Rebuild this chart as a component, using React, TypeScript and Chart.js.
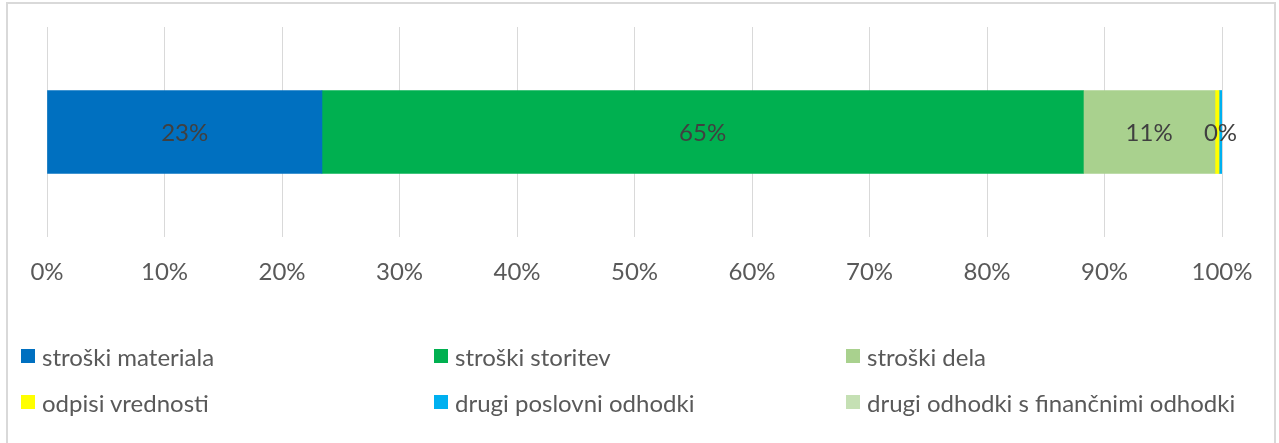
import React, { useEffect, useRef } from "react";
import { Chart, registerables } from "chart.js";

Chart.register(...registerables);

const categories = [""];
const seriesNames = [
  "stroški materiala",
  "stroški storitev",
  "stroški dela",
  "odpisi vrednosti",
  "drugi poslovni odhodki",
  "drugi odhodki s finančnimi odhodki",
];
const seriesValues = [23.4, 64.8, 11.2, 0.35, 0.25, 0];
const seriesColors = ["#0070C0", "#00B050", "#A9D18E", "#FFFF00", "#00B0F0", "#C5E0B4"];
const labelShown = [true, true, true, false, true, false];
const tickValues = [0, 10, 20, 30, 40, 50, 60, 70, 80, 90, 100];

const FONT = "Lato, 'Open Sans', sans-serif";

const labelPlugin = {
  id: "segLabels",
  afterDatasetsDraw(chart: any) {
    const ctx = chart.ctx;
    ctx.save();
    ctx.font = `24px ${FONT}`;
    ctx.fillStyle = "#404040";
    ctx.textAlign = "center";
    ctx.textBaseline = "middle";
    chart.data.datasets.forEach((ds: any, i: number) => {
      if (!labelShown[i]) return;
      const meta = chart.getDatasetMeta(i);
      meta.data.forEach((el: any, j: number) => {
        const v = ds.data[j];
        const { x, y, base } = el.getProps(["x", "y", "base"], true);
        ctx.fillText(`${Math.round(v)}%`, (x + base) / 2, y + 1);
      });
    });
    ctx.restore();
  },
};

export default function App() {
  const ref = useRef<HTMLCanvasElement>(null);
  useEffect(() => {
    const chart = new Chart(ref.current!, {
      type: "bar",
      data: {
        labels: categories,
        datasets: seriesNames.map((name, i) => ({
          label: name,
          data: [seriesValues[i]],
          backgroundColor: seriesColors[i],
          borderWidth: 0,
          barThickness: 83,
        })),
      },
      options: {
        indexAxis: "y",
        animation: false,
        responsive: false,
        maintainAspectRatio: false,
        layout: { padding: { left: 47, right: 57, top: 27, bottom: 0 } },
        plugins: { legend: { display: false }, tooltip: { enabled: false } },
        scales: {
          x: {
            stacked: true,
            min: 0,
            max: 100,
            afterBuildTicks(scale: any) {
              scale.ticks = tickValues.map((v) => ({ value: v }));
            },
            afterFit(scale: any) {
              scale.height = 206;
            },
            grid: { color: "#D9D9D9", lineWidth: 1, drawTicks: false },
            border: { display: false },
            ticks: {
              padding: 21,
              color: "#595959",
              font: { family: FONT, size: 24 },
              callback: (v: any) => `${v}%`,
            },
          },
          y: { stacked: true, display: false },
        },
      },
      plugins: [labelPlugin],
    });
    return () => chart.destroy();
  }, []);

  const colLeft = [21, 434, 846];
  const rowTop = [343, 389];
  return (
    <div style={{ position: "fixed", left: 0, top: 0, width: 1279, height: 443, background: "#fff", overflow: "hidden" }}>
      <div
        style={{
          position: "absolute",
          left: 6,
          top: 2,
          width: 1270,
          height: 450,
          border: "2px solid #D9D9D9",
          boxSizing: "border-box",
        }}
      />
      <canvas ref={ref} width={1279} height={443} style={{ position: "absolute", left: 0, top: 0 }} />
      {seriesNames.map((name, i) => (
        <div
          key={name}
          style={{
            position: "absolute",
            left: colLeft[i % 3],
            top: rowTop[Math.floor(i / 3)],
            height: 26,
            display: "flex",
            alignItems: "center",
            fontFamily: FONT,
            fontSize: 24,
            color: "#595959",
            whiteSpace: "nowrap",
          }}
        >
          <span style={{ display: "inline-block", width: 14, height: 14, background: seriesColors[i], marginRight: 7 }} />
          {name}
        </div>
      ))}
    </div>
  );
}
